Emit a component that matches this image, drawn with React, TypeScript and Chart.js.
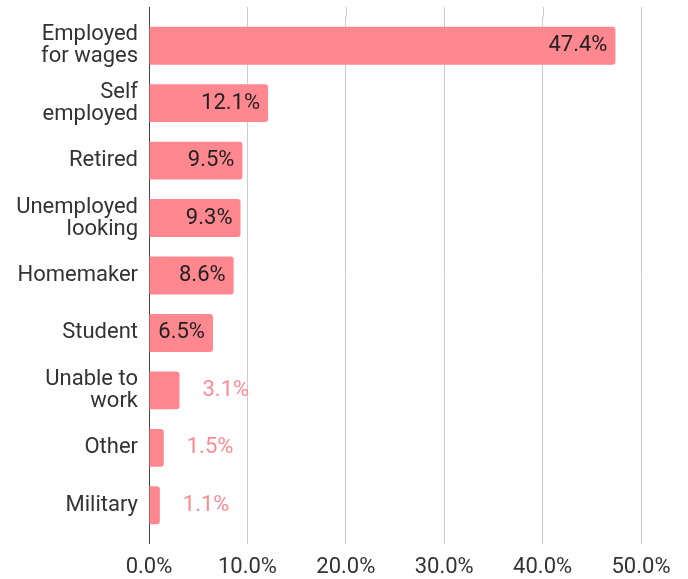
import React, { useEffect, useRef } from "react";
import { Chart, registerables } from "chart.js";

Chart.register(...registerables);

const categories: (string | string[])[] = [
  ["Employed", "for wages"],
  ["Self", "employed"],
  "Retired",
  ["Unemployed", "looking"],
  "Homemaker",
  "Student",
  ["Unable to", "work"],
  "Other",
  "Military",
];
const values: number[] = [47.4, 12.1, 9.5, 9.3, 8.6, 6.5, 3.1, 1.5, 1.1];
const xTicks: number[] = [0, 10, 20, 30, 40, 50];

const BAR = "#ff878f";
const FONT = "Roboto";
const FS = 22;

const gridExtend = {
  id: "gridExtend",
  beforeDatasetsDraw(chart: any) {
    const { ctx, chartArea, scales } = chart;
    const x = scales.x;
    ctx.save();
    ctx.lineWidth = 1;
    for (const v of xTicks) {
      const px = Math.round(x.getPixelForValue(v)) + 0.5;
      ctx.strokeStyle = v === 0 ? "#444" : "#cccccc";
      ctx.beginPath();
      ctx.moveTo(px, chartArea.top - 10);
      ctx.lineTo(px, chartArea.top);
      ctx.stroke();
    }
    ctx.restore();
  },
};

const valueLabels = {
  id: "valueLabels",
  afterDatasetsDraw(chart: any) {
    const { ctx } = chart;
    const meta = chart.getDatasetMeta(0);
    ctx.save();
    ctx.font = `${FS}px ${FONT}`;
    ctx.textBaseline = "middle";
    meta.data.forEach((bar: any, i: number) => {
      const text = values[i].toFixed(1) + "%";
      const w = ctx.measureText(text).width;
      const barW = bar.x - bar.base;
      if (barW > w + 14) {
        ctx.fillStyle = "#222222";
        ctx.textAlign = "right";
        ctx.fillText(text, bar.x - 8, bar.y);
      } else {
        ctx.fillStyle = "#ff8a94";
        ctx.textAlign = "left";
        ctx.fillText(text, bar.x + 23, bar.y);
      }
    });
    ctx.restore();
  },
};

export default function App() {
  const ref = useRef<HTMLCanvasElement | null>(null);
  useEffect(() => {
    if (!ref.current) return;
    const chart = new Chart(ref.current, {
      type: "bar",
      data: {
        labels: categories,
        datasets: [
          {
            data: values,
            backgroundColor: BAR,
            borderRadius: 3,
            borderSkipped: "start",
            categoryPercentage: 1,
            barPercentage: 0.66,
          },
        ],
      },
      options: {
        indexAxis: "y",
        animation: false,
        responsive: true,
        maintainAspectRatio: false,
        layout: { padding: { top: 17, right: 47, left: 0, bottom: 0 } },
        plugins: {
          legend: { display: false },
          tooltip: { enabled: false },
        },
        scales: {
          x: {
            min: 0,
            max: 50,
            afterBuildTicks: (s: any) => {
              s.ticks = xTicks.map((v) => ({ value: v }));
            },
            afterFit: (s: any) => {
              s.paddingLeft = 0;
              s.paddingRight = 0;
              s.paddingBottom = 0;
              s.height = 45;
            },
            ticks: {
              callback: (v: any) => Number(v).toFixed(1) + "%",
              color: "#333333",
              font: { family: FONT, size: FS },
              padding: 10,
            },
            grid: {
              color: (c: any) => (c.tick && c.tick.value === 0 ? "#444" : "#cccccc"),
              tickLength: 10,
              drawTicks: true,
            },
            border: { display: false },
          },
          y: {
            afterFit: (s: any) => {
              s.width = 149;
              s.paddingTop = 0;
              s.paddingBottom = 0;
            },
            ticks: {
              color: "#333333",
              font: { family: FONT, size: FS, lineHeight: 1.0 },
              padding: 11,
            },
            grid: { display: false, drawTicks: false, tickLength: 0 },
            border: { display: false },
          },
        },
      },
      plugins: [gridExtend, valueLabels],
    });
    return () => chart.destroy();
  }, []);
  return (
    <div style={{ position: "absolute", left: 0, top: 0, width: 688, height: 579 }}>
      <canvas ref={ref} />
    </div>
  );
}
